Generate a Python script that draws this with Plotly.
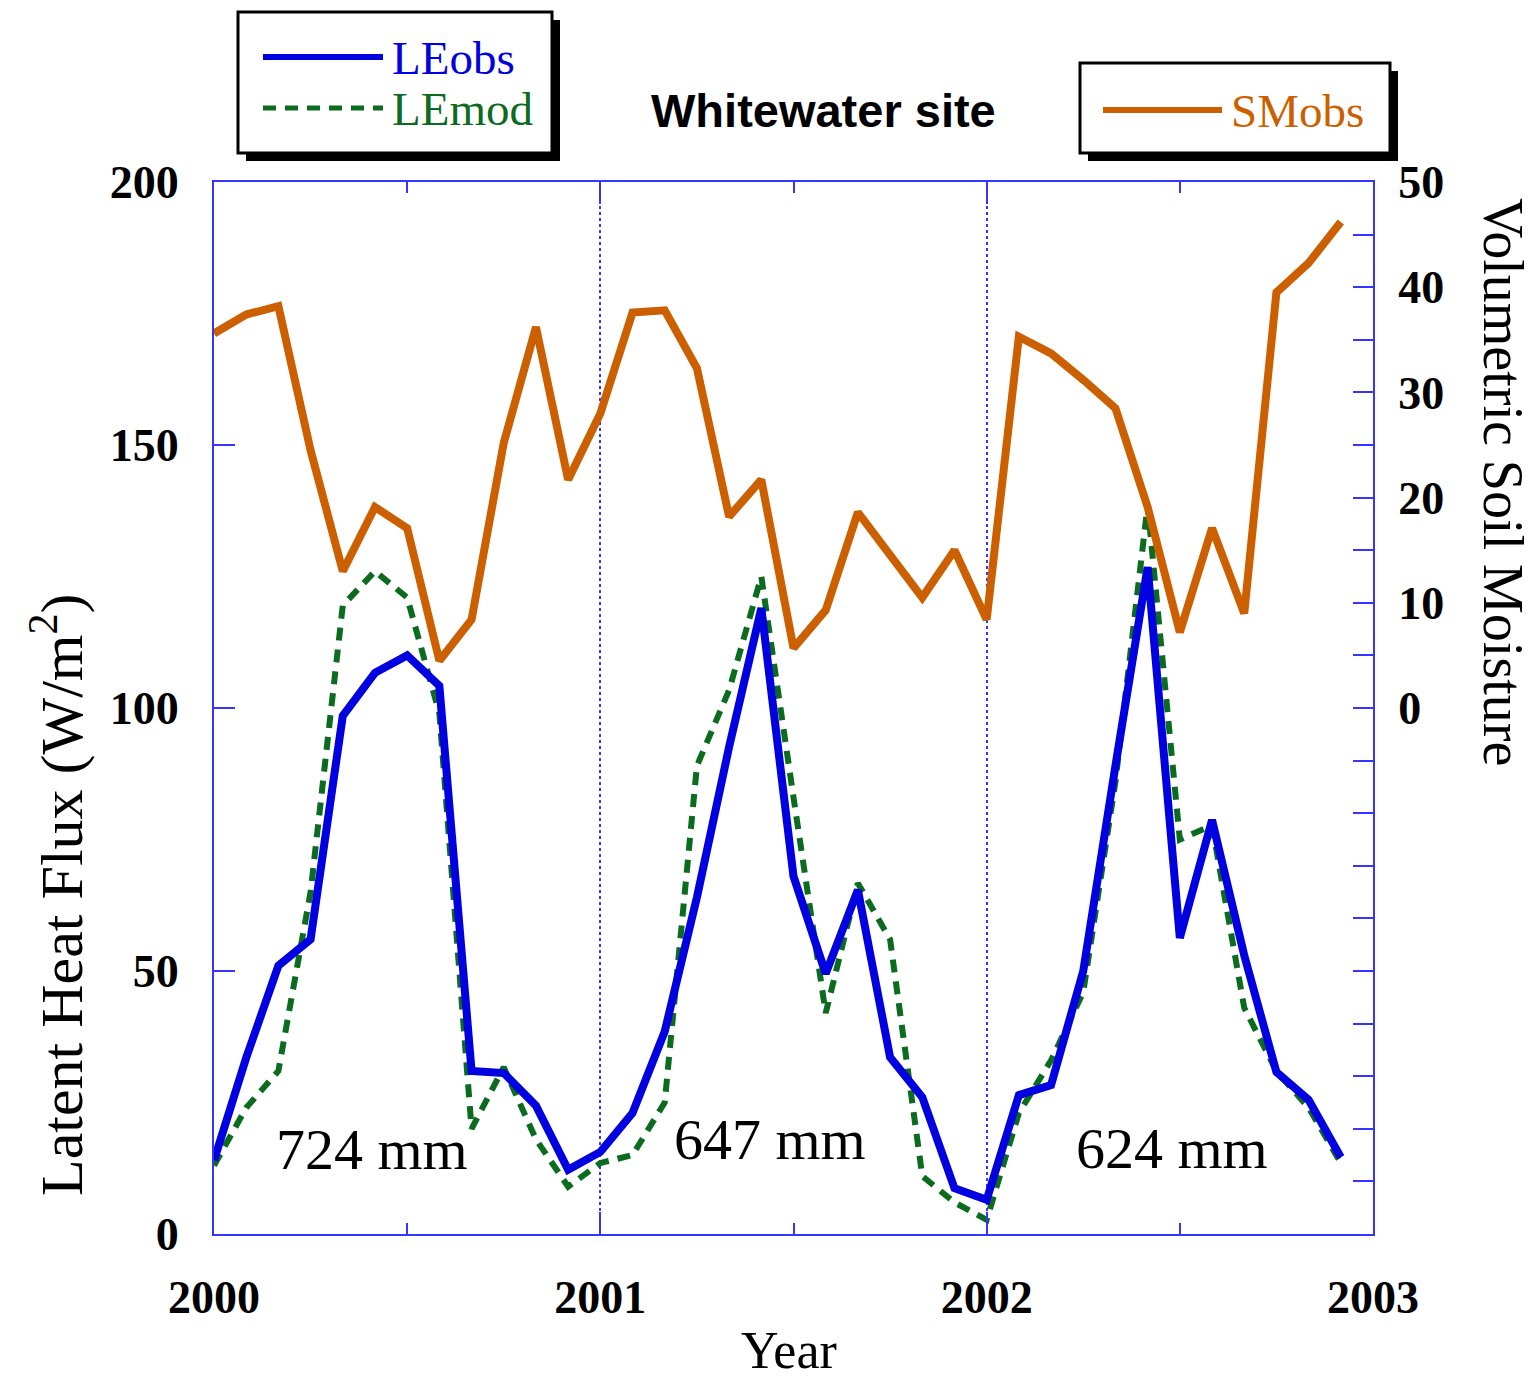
import plotly.graph_objects as go

# ---------------- data ----------------
months = [2000 + i / 12 for i in range(36)]  # monthly time stamps (decimal year)

le_obs = [14, 33.5, 51, 56, 98.5, 106.7, 110, 104.2, 31, 30.6, 24.4, 12.2,
          15.6, 23, 38.5, 64, 92.6, 119, 68, 49.5, 65.4, 33.6, 26, 8.7,
          6.5, 26.4, 28.3, 50, 89, 126.8, 56.3, 78.7, 53, 30.8, 25.5, 14.6]

le_mod = [13, 24, 31, 65, 119.5, 126, 121, 99, 20, 31.7, 18, 9,
          13.5, 15, 25, 89, 103.4, 125, 83, 42, 66.7, 56, 11, 6,
          2.7, 23, 33, 46, 86, 138.6, 75, 77.7, 43, 31, 24, 13.5]

sm_obs = [35.6, 37.4, 38.2, 24.5, 13, 19.1, 17.1, 4.5, 8.4, 25.2, 36.2, 21.7,
          28, 37.6, 37.8, 32.3, 18.2, 21.7, 5.7, 9.3, 18.6, 14.5, 10.5, 15,
          8.4, 35.3, 33.7, 31.2, 28.5, 19.1, 7.2, 17.1, 9, 39.5, 42.3, 46.2]

year_ticks = [2000, 2001, 2002, 2003]
le_ticks = [0, 50, 100, 150, 200]
sm_ticks = [0, 10, 20, 30, 40, 50]

precip_labels = ["724 mm", "647 mm", "624 mm"]
precip_x = [2000.41, 2001.44, 2002.48]
precip_y = [16, 18, 16.3]

# ---------------- style ----------------
W, H = 1537, 1380
L, R, T, B = 214, 164, 182, 146
PW, PH = W - L - R, H - T - B

def px(xp):
    return (xp - L) / PW

def py(yp):
    return (H - B - yp) / PH

BLUE = "#0000e0"
GREEN = "#0b6b1e"
ORANGE = "#cc5f00"
AXIS = "#3535ff"
SERIF = "Liberation Serif"

fig = go.Figure()
fig.add_trace(go.Scatter(x=months, y=sm_obs, mode="lines", name="SMobs",
                         line=dict(color=ORANGE, width=8), yaxis="y2"))
fig.add_trace(go.Scatter(x=months, y=le_mod, mode="lines", name="LEmod",
                         line=dict(color=GREEN, width=6, dash="13px,9px")))
fig.add_trace(go.Scatter(x=months, y=le_obs, mode="lines", name="LEobs",
                         line=dict(color=BLUE, width=8)))

tickfont = dict(family=SERIF, size=46, color="black", weight="bold")

fig.update_layout(
    width=W, height=H,
    margin=dict(l=L, r=R, t=T, b=B),
    paper_bgcolor="white", plot_bgcolor="white",
    showlegend=False,
    xaxis=dict(range=[2000, 2003], tickmode="array", tickvals=year_ticks,
               ticktext=[str(v) for v in year_ticks],
               ticks="inside", ticklen=22, tickwidth=2, tickcolor=AXIS,
               showline=True, linecolor=AXIS, linewidth=2, mirror="ticks",
               showgrid=True, gridcolor=AXIS, gridwidth=1.5, griddash="dot",
               zeroline=False, tickfont=tickfont, ticklabelstandoff=22,
               minor=dict(tickmode="linear", tick0=2000, dtick=0.5, ticks="inside",
                          ticklen=11, tickwidth=2, tickcolor=AXIS, showgrid=False)),
    yaxis=dict(range=[0, 200], tickmode="array", tickvals=le_ticks,
               ticks="inside", ticklen=21, tickwidth=2, tickcolor=AXIS,
               showline=True, linecolor=AXIS, linewidth=2, mirror=True,
               showgrid=False, zeroline=False, tickfont=tickfont,
               ticklabelstandoff=24),
    yaxis2=dict(range=[-50, 50], overlaying="y", side="right", tickmode="array",
                tickvals=sm_ticks,
                ticks="inside", ticklen=20, tickwidth=2, tickcolor=AXIS,
                showline=True, linecolor=AXIS, linewidth=2,
                showgrid=False, zeroline=False, tickfont=tickfont,
                ticklabelstandoff=14,
                minor=dict(tickmode="linear", tick0=0, dtick=5, ticks="inside",
                           ticklen=20, tickwidth=2, tickcolor=AXIS, showgrid=False)),
)

shapes = []
annotations = []

# legend boxes (shadow + framed box)
def legend_box(x0, y0, x1, y1):
    shapes.append(dict(type="rect", xref="paper", yref="paper",
                       x0=px(x0 + 8), x1=px(x1 + 8), y0=py(y1 + 8), y1=py(y0 + 8),
                       fillcolor="black", line=dict(width=0)))
    shapes.append(dict(type="rect", xref="paper", yref="paper",
                       x0=px(x0), x1=px(x1), y0=py(y1), y1=py(y0),
                       fillcolor="white", line=dict(color="black", width=3)))

legend_box(238, 12, 552, 153)
legend_box(1080, 63, 1390, 153)

def legend_item(x0, x1, y, color, dash, text, width):
    shapes.append(dict(type="line", xref="paper", yref="paper",
                       x0=px(x0), x1=px(x1), y0=py(y), y1=py(y),
                       line=dict(color=color, width=width, dash=dash)))
    annotations.append(dict(x=px(x1 + 7), y=py(y + 1), xref="paper", yref="paper",
                            text=text, showarrow=False, xanchor="left", yanchor="middle",
                            font=dict(family=SERIF, size=47, color=color)))

legend_item(263, 383, 57, BLUE, "solid", "LEobs", 6)
legend_item(263, 383, 108, GREEN, "13px,9px", "LEmod", 5)
legend_item(1103, 1222, 110, ORANGE, "solid", "SMobs", 6)

fig.update_layout(shapes=shapes)

# title
annotations.append(dict(x=px(823), y=py(110), xref="paper", yref="paper",
                        text="Whitewater site", showarrow=False,
                        xanchor="center", yanchor="middle",
                        font=dict(family="Liberation Sans", size=47, color="black",
                                  weight="bold")))
# axis titles
annotations.append(dict(x=px(58), y=py(895), xref="paper", yref="paper",
                        text="Latent Heat Flux (W/m<sup>2</sup>)", showarrow=False,
                        textangle=-90, xanchor="center", yanchor="middle",
                        font=dict(family=SERIF, size=60, color="black")))
annotations.append(dict(x=px(1503), y=py(482), xref="paper", yref="paper",
                        text="Volumetric Soil Moisture", showarrow=False,
                        textangle=90, xanchor="center", yanchor="middle",
                        font=dict(family=SERIF, size=56, color="black")))
annotations.append(dict(x=px(789), y=py(1350), xref="paper", yref="paper",
                        text="Year", showarrow=False,
                        xanchor="center", yanchor="middle",
                        font=dict(family=SERIF, size=52, color="black")))
# precipitation labels
for t, xv, yv in zip(precip_labels, precip_x, precip_y):
    annotations.append(dict(x=xv, y=yv, xref="x", yref="y", text=t, showarrow=False,
                            xanchor="center", yanchor="middle",
                            font=dict(family=SERIF, size=58, color="black")))

fig.update_layout(annotations=annotations)

fig.write_html("out.html")
